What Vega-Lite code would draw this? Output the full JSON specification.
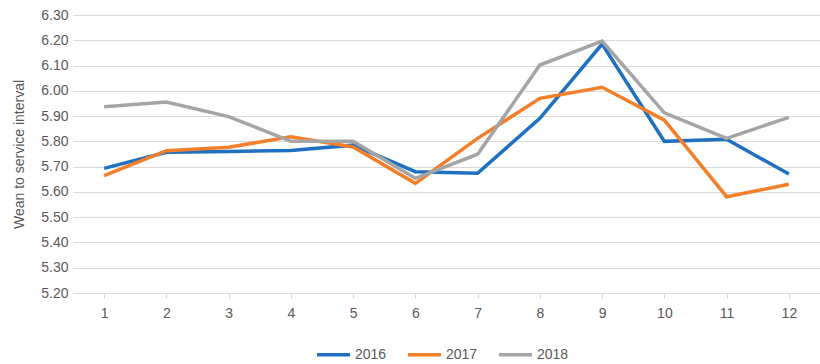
{
  "$schema": "https://vega.github.io/schema/vega-lite/v6.json",
  "width": 747,
  "height": 278,
  "autosize": {"type": "none"},
  "padding": {"left": 73, "top": 15, "right": 0, "bottom": 71},
  "background": "white",
  "data": {
    "values": [
      {"month": 1, "year": "2016", "value": 5.693},
      {"month": 2, "year": "2016", "value": 5.757},
      {"month": 3, "year": "2016", "value": 5.760},
      {"month": 4, "year": "2016", "value": 5.764},
      {"month": 5, "year": "2016", "value": 5.785},
      {"month": 6, "year": "2016", "value": 5.680},
      {"month": 7, "year": "2016", "value": 5.674},
      {"month": 8, "year": "2016", "value": 5.891},
      {"month": 9, "year": "2016", "value": 6.185},
      {"month": 10, "year": "2016", "value": 5.800},
      {"month": 11, "year": "2016", "value": 5.808},
      {"month": 12, "year": "2016", "value": 5.671},
      {"month": 1, "year": "2017", "value": 5.664},
      {"month": 2, "year": "2017", "value": 5.763},
      {"month": 3, "year": "2017", "value": 5.777},
      {"month": 4, "year": "2017", "value": 5.818},
      {"month": 5, "year": "2017", "value": 5.778},
      {"month": 6, "year": "2017", "value": 5.634},
      {"month": 7, "year": "2017", "value": 5.812},
      {"month": 8, "year": "2017", "value": 5.970},
      {"month": 9, "year": "2017", "value": 6.014},
      {"month": 10, "year": "2017", "value": 5.884},
      {"month": 11, "year": "2017", "value": 5.581},
      {"month": 12, "year": "2017", "value": 5.630},
      {"month": 1, "year": "2018", "value": 5.937},
      {"month": 2, "year": "2018", "value": 5.956},
      {"month": 3, "year": "2018", "value": 5.898},
      {"month": 4, "year": "2018", "value": 5.800},
      {"month": 5, "year": "2018", "value": 5.800},
      {"month": 6, "year": "2018", "value": 5.654},
      {"month": 7, "year": "2018", "value": 5.749},
      {"month": 8, "year": "2018", "value": 6.102},
      {"month": 9, "year": "2018", "value": 6.197},
      {"month": 10, "year": "2018", "value": 5.913},
      {"month": 11, "year": "2018", "value": 5.812},
      {"month": 12, "year": "2018", "value": 5.895}
    ]
  },
  "mark": {"type": "line", "strokeWidth": 3.5, "strokeJoin": "miter", "strokeCap": "butt"},
  "encoding": {
    "x": {
      "field": "month",
      "type": "ordinal",
      "scale": {"type": "point", "padding": 0.5},
      "axis": {
        "title": null,
        "labelAngle": 0,
        "labelFontSize": 14,
        "labelColor": "#595959",
        "labelPadding": 8,
        "domain": true,
        "domainColor": "#d9d9d9",
        "domainWidth": 1,
        "ticks": true,
        "tickColor": "#d9d9d9",
        "tickSize": 5,
        "grid": false
      }
    },
    "y": {
      "field": "value",
      "type": "quantitative",
      "scale": {"domain": [5.2, 6.3], "nice": false, "zero": false},
      "axis": {
        "title": "Wean to service interval",
        "titleFontSize": 14,
        "titleFontWeight": "normal",
        "titleColor": "#595959",
        "titlePadding": 14,
        "values": [5.2, 5.3, 5.4, 5.5, 5.6, 5.7, 5.8, 5.9, 6.0, 6.1, 6.2, 6.3],
        "format": ".2f",
        "labelFontSize": 14,
        "labelColor": "#595959",
        "labelPadding": 5,
        "domain": false,
        "ticks": false,
        "grid": true,
        "gridColor": "#d9d9d9",
        "gridWidth": 1
      }
    },
    "color": {
      "field": "year",
      "type": "nominal",
      "scale": {"domain": ["2016", "2017", "2018"], "range": ["#1f70c1", "#f47f2a", "#a5a5a5"]},
      "legend": {
        "title": null,
        "orient": "none",
        "direction": "horizontal",
        "legendX": 242,
        "legendY": 321,
        "symbolType": "stroke",
        "symbolStrokeWidth": 3.5,
        "symbolSize": 1089,
        "labelFontSize": 14,
        "labelColor": "#595959",
        "labelOffset": 3,
        "columnPadding": 14
      }
    }
  },
  "config": {
    "font": "Liberation Sans",
    "view": {"stroke": null}
  }
}
